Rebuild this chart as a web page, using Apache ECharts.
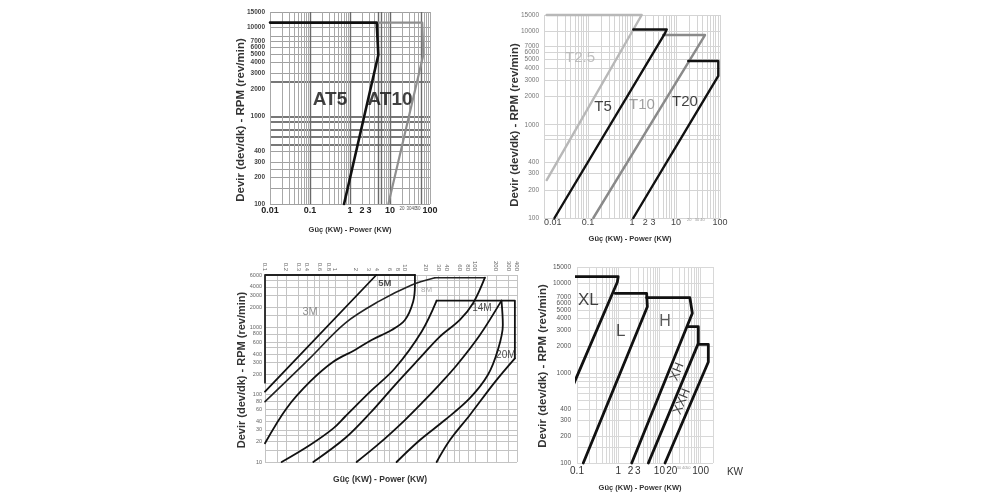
<!DOCTYPE html>
<html>
<head>
<meta charset="utf-8">
<title>Belt power selection charts</title>
<script src="https://cdn.jsdelivr.net/npm/echarts@6.0.0/dist/echarts.min.js"></script>
<style>
html,body{margin:0;padding:0;background:#fff;}
#chart{width:1000px;height:500px;}
</style>
</head>
<body>
<div id="chart"></div>
<script>
// ---------------- Panel 1 : AT5 / AT10 ----------------
const p1XLabels = [0.01, 0.1, 1, 2, 3, 10, 20, 30, 40, 50, 100];
const p1XTiny = [20, 30, 40, 50];
const p1YLabels = [100, 200, 300, 400, 1000, 2000, 3000, 4000, 5000, 6000, 7000, 10000, 15000];
const p1YGrid = [100, 150, 200, 250, 300, 400, 3000, 4000, 5000, 6000, 7000, 8000, 10000, 15000];
const p1YThick = [470, 580, 690, 860, 980, 2400];
const p1XDark = [0.1, 1, 5, 6, 10, 60];
const at5 = [[0.01, 11370], [4.65, 11370], [5.1, 4890], [0.71, 100]];
const at10 = [[5.1, 11370], [64, 11370], [68, 4890], [9.1, 100]];
const p1Texts = ['AT5', 'AT10'];
const p1TextAt = [[0.316, 1511], [10, 1511]];

// ---------------- Panel 2 : T2.5 / T5 / T10 / T20 ----------------
const p2XLabels = [0.01, 0.1, 1, 2, 3, 10, 20, 30, 40, 100];
const p2XTiny = [20, 30, 40];
const p2YLabels = [100, 200, 300, 400, 1000, 2000, 3000, 4000, 5000, 6000, 7000, 10000, 15000];
const p2YGrid = [100, 200, 300, 400, 690, 780, 1000, 2000, 3000, 4000, 5000, 6000, 7000, 10000, 15000];
const t25 = [[0.0115, 15000], [1.66, 15000], [0.0115, 255]];
const t5 = [[1.07, 10500], [6.15, 10500], [5.6, 9550], [0.0173, 100]];
const t10 = [[5.1, 9150], [45.6, 9150], [0.132, 100]];
const t20 = [[19, 4820], [91.5, 4820], [91.5, 3330], [1.07, 100]];
const p2Texts = ['T2.5', 'T5', 'T10', 'T20'];
const p2TextAt = [[0.0658, 5188], [0.219, 1548], [1.69, 1627], [16.0, 1751]];

// ---------------- Panel 3 : 3M / 5M / 8M / 14M / 20M ----------------
const p3XLabels = [0.1, 0.2, 0.3, 0.4, 0.6, 0.8, 1, 2, 3, 4, 6, 8, 10, 20, 30, 40, 60, 80, 100, 200, 300, 400];
const p3XGrid = [0.1, 0.15, 0.2, 0.3, 0.4, 0.5, 0.6, 0.8, 1, 1.5, 2, 3, 4, 5, 6, 8, 10, 15, 20, 30, 40, 50, 60, 80, 100, 150, 200, 300, 400];
const p3YLabels = [10, 20, 30, 40, 60, 80, 100, 200, 300, 400, 600, 800, 1000, 2000, 3000, 4000, 6000];
const p3YGrid = [10, 15, 20, 25, 30, 40, 50, 60, 80, 100, 150, 200, 300, 400, 500, 600, 800, 1000, 1500, 2000, 3000, 4000, 5000, 6000];
const m3 = [[0.1, 111], [3.9, 6000]];
const border3 = [[0.1, 150], [0.1, 6000], [13.9, 6000]];
const m5 = [[0.1, 19], [0.204, 63], [0.44, 156], [0.946, 309], [1.93, 461], [3.34, 650], [6.46, 915], [10, 1288], [13.1, 2410], [13.9, 4266], [13.9, 6000]];
const m8a = [[0.1, 79], [0.44, 350], [1.39, 1151], [4.16, 2410], [12.5, 4266], [26.8, 5470]];
const m8top = [[26.8, 5470], [139, 5470]];
const m8b = [[139, 5470], [94.6, 2300], [61, 1288], [31.6, 728], [16.4, 351], [7.2, 139], [3.16, 53], [1.39, 22.5], [0.49, 10]];
const m14a = [[0.173, 10], [0.44, 17.9], [0.946, 31.6], [1.39, 47], [3.16, 110], [7.2, 247], [17.3, 863], [28.4, 2500]];
const top14 = [[28.4, 2500], [373, 2500], [373, 347]];
const m14b = [[240, 2500], [118, 771], [55.3, 276], [31.6, 144], [18.1, 78], [10, 42], [4.39, 19.2], [2.04, 10]];
const m20a = [[240, 2500], [251, 1086], [213, 461], [153, 196], [84.8, 89], [37.3, 42], [16.4, 21.2], [7.6, 10]];
const m20b = [[373, 347], [193, 154], [84.8, 50], [44, 21.2], [28.4, 10]];
const p3Texts = ['3M', '5M', '8M', '14M', '20M'];
const p3TextAt = [[0.44, 1711], [5.18, 4520], [20.4, 3597], [126, 1941], [277, 389]];

// ---------------- Panel 4 : XL / L / H / XH / XXH ----------------
const p4XLabels = [0.1, 1, 2, 3, 10, 20, 30, 40, 50, 100, 200];
const p4XTiny = [30, 40, 50];
const p4YLabels = [100, 200, 300, 400, 1000, 2000, 3000, 4000, 5000, 6000, 7000, 10000, 15000];
const p4YGrid = [100, 150, 200, 300, 400, 500, 600, 700, 800, 900, 1000, 1500, 2000, 3000, 4000, 5000, 6000, 7000, 10000, 15000];
const xl = [[0.081, 11700], [1.0, 11700], [0.95, 10150], [0.081, 735]];
const lBelt = [[0.84, 7660], [4.9, 7660], [5.1, 5440], [0.142, 100]];
const hBelt = [[4.9, 6840], [55, 6840], [63, 4590], [2.13, 100]];
const xh = [[49, 3260], [88, 3260], [88, 2130], [5.4, 100]];
const xxh = [[93, 2080], [154, 2080], [154, 1320], [13.7, 100]];
const p4Texts = ['XL', 'L', 'H', 'XH', 'XXH'];
const p4TextAt = [[0.188, 6450], [1.15, 2870], [13.7, 3705], [26.7, 1032], [35.4, 480]];

// ---------------- helpers ----------------
const FONT = '"Liberation Sans", Arial, sans-serif';
function plain(v) { return String(v); }
function logMinor(fromExp, toExp) {
  const out = [];
  for (let e = fromExp; e < toExp; e++) {
    for (let m = 1; m <= 9; m++) out.push(Number((m * Math.pow(10, e)).toPrecision(2)));
  }
  out.push(Number(Math.pow(10, toExp).toPrecision(2)));
  return out;
}
function axis(o) {
  const base = {
    type: 'log', logBase: 10,
    axisLine: { show: false }, axisTick: { show: false },
    splitLine: { show: true, lineStyle: { color: '#ccc', width: 1 } },
    axisLabel: { show: false },
    z: 1
  };
  return Object.assign(base, o);
}
function gridLines(values, color, width) {
  return { axisTick: { show: false, customValues: values }, splitLine: { show: true, lineStyle: { color: color, width: width } } };
}
function labelsCfg(values, tiny, big, small, extra) {
  return Object.assign({
    show: true, customValues: values, fontFamily: FONT,
    formatter: function (v) { return (tiny.indexOf(v) >= 0 ? '{t|' : '{b|') + String(v) + '}'; },
    rich: { t: small, b: big }
  }, extra || {});
}
function yLabels(values, extra) {
  return Object.assign({ show: true, customValues: values, formatter: plain, fontFamily: FONT }, extra);
}
function lineS(xi, yi, data, color, width, smooth) {
  return {
    type: 'line', xAxisIndex: xi, yAxisIndex: yi, data: data, symbol: 'none', showSymbol: false,
    smooth: smooth || false, clip: false, silent: true, z: 3,
    lineStyle: { color: color, width: width, cap: 'round', join: 'round' }
  };
}
function textS(xi, yi, names, pos, styles) {
  return {
    type: 'scatter', xAxisIndex: xi, yAxisIndex: yi, symbolSize: 0, silent: true, z: 5, clip: false,
    data: names.map(function (n, i) {
      return { name: n, value: pos[i], label: Object.assign({ show: true, position: 'inside', formatter: '{b}', fontFamily: FONT }, styles[i]) };
    })
  };
}

const grids = [
  { left: 270, top: 12, width: 160, height: 192 },
  { left: 544, top: 15, width: 176, height: 203 },
  { left: 265, top: 275, width: 252, height: 187 },
  { left: 577, top: 267, width: 136, height: 196 }
].map(g => Object.assign({ containLabel: false, outerBoundsMode: 'none', show: false }, g));

const xAxes = [
  // 0 panel 1 main
  axis(Object.assign({ gridIndex: 0, min: 0.01, max: 100, position: 'bottom',
    axisLabel: labelsCfg(p1XLabels, p1XTiny,
      { fontSize: 9, fontWeight: 'bold', color: '#222', fontFamily: FONT },
      { fontSize: 4.5, color: '#555', fontFamily: FONT }, { margin: 2 }) },
    gridLines(logMinor(-2, 2), '#a8a8a8', 1))),
  // 1 panel 1 dark verticals
  axis(Object.assign({ gridIndex: 0, min: 0.01, max: 100, position: 'bottom' }, gridLines(p1XDark, '#6a6a6a', 1.4))),
  // 2 panel 2
  axis(Object.assign({ gridIndex: 1, min: 0.01, max: 100, position: 'bottom',
    axisLabel: labelsCfg(p2XLabels, p2XTiny,
      { fontSize: 9, color: '#444', fontFamily: FONT },
      { fontSize: 4, color: '#999', fontFamily: FONT }, { margin: 0, alignMinLabel: 'left' }) },
    gridLines(logMinor(-2, 2), '#d4d4d4', 1))),
  // 3 panel 3 (top)
  axis(Object.assign({ gridIndex: 2, min: 0.1, max: 400, position: 'top',
    axisLabel: { show: true, customValues: p3XLabels, formatter: plain, rotate: 90, margin: 4, fontSize: 6, color: '#666', fontFamily: FONT } },
    gridLines(p3XGrid, '#c4c4c4', 1))),
  // 4 panel 4
  axis(Object.assign({ gridIndex: 3, min: 0.1, max: 200, position: 'bottom',
    axisLabel: labelsCfg(p4XLabels, p4XTiny,
      { fontSize: 10, color: '#333', fontFamily: FONT },
      { fontSize: 4, color: '#999', fontFamily: FONT }, { margin: 3 }) },
    gridLines(logMinor(-1, 2).concat([200]), '#d8d8d8', 1)))
];

const yAxes = [
  // 0 panel 1 main
  axis(Object.assign({ gridIndex: 0, min: 100, max: 15000, position: 'left',
    axisLabel: yLabels(p1YLabels, { margin: 5, fontSize: 6.5, fontWeight: 'bold', color: '#444' }) },
    gridLines(p1YGrid, '#a0a0a0', 1))),
  // 1 panel 1 thick horizontals
  axis(Object.assign({ gridIndex: 0, min: 100, max: 15000, position: 'left' }, gridLines(p1YThick, '#4a4a4a', 1.7))),
  // 2 panel 2
  axis(Object.assign({ gridIndex: 1, min: 100, max: 15000, position: 'left',
    axisLabel: yLabels(p2YLabels, { margin: 5, fontSize: 6.5, color: '#777' }) },
    gridLines(p2YGrid, '#d4d4d4', 1))),
  // 3 panel 3
  axis(Object.assign({ gridIndex: 2, min: 10, max: 6000, position: 'left',
    axisLabel: yLabels(p3YLabels, { margin: 3, fontSize: 5.5, color: '#666' }) },
    gridLines(p3YGrid, '#c4c4c4', 1))),
  // 4 panel 4
  axis(Object.assign({ gridIndex: 3, min: 100, max: 15000, position: 'left',
    axisLabel: yLabels(p4YLabels, { margin: 6, fontSize: 6.5, color: '#555' }) },
    gridLines(p4YGrid, '#d8d8d8', 1)))
];

const series = [
  // panel 1
  lineS(0, 0, at10, '#8f8f8f', 2.2),
  lineS(0, 0, at5, '#111', 2.6),
  textS(0, 0, p1Texts, p1TextAt, [
    { fontSize: 19, fontWeight: 'bold', color: '#111' },
    { fontSize: 19, fontWeight: 'bold', color: '#111' }
  ]),
  // panel 2
  lineS(2, 2, t25, '#b8b8b8', 2.4),
  lineS(2, 2, t10, '#8a8a8a', 2.4),
  lineS(2, 2, t5, '#111', 2.4),
  lineS(2, 2, t20, '#111', 2.4),
  textS(2, 2, p2Texts, p2TextAt, [
    { fontSize: 15, color: '#b0b0b0' },
    { fontSize: 15, color: '#111' },
    { fontSize: 15, color: '#8a8a8a' },
    { fontSize: 15, color: '#111' }
  ]),
  // panel 3
  lineS(3, 3, border3, '#222', 1.8),
  lineS(3, 3, m3, '#111', 1.8),
  lineS(3, 3, m5, '#111', 1.8, 0.35),
  lineS(3, 3, m8a, '#222', 1.6, 0.35),
  lineS(3, 3, m8top, '#222', 1.6),
  lineS(3, 3, m8b, '#111', 1.8, 0.35),
  lineS(3, 3, m14a, '#111', 1.8, 0.35),
  lineS(3, 3, top14, '#111', 1.8),
  lineS(3, 3, m14b, '#111', 1.8, 0.35),
  lineS(3, 3, m20a, '#111', 1.8, 0.35),
  lineS(3, 3, m20b, '#111', 1.8, 0.35),
  textS(3, 3, p3Texts, p3TextAt, [
    { fontSize: 11, color: '#777' },
    { fontSize: 9.5, color: '#222', fontWeight: 'bold' },
    { fontSize: 8, color: '#999' },
    { fontSize: 10, color: '#222' },
    { fontSize: 10, color: '#222' }
  ]),
  // panel 4
  lineS(4, 4, xl, '#111', 2.8),
  lineS(4, 4, lBelt, '#111', 2.8),
  lineS(4, 4, hBelt, '#111', 2.8),
  lineS(4, 4, xh, '#111', 2.8),
  lineS(4, 4, xxh, '#111', 2.8),
  textS(4, 4, p4Texts, p4TextAt, [
    { fontSize: 17, color: '#111' },
    { fontSize: 17, color: '#222' },
    { fontSize: 16, color: '#333' },
    { fontSize: 13, color: '#111', rotate: 68 },
    { fontSize: 13, color: '#111', rotate: 68 }
  ])
];

function title(x, y, text, size, rot) {
  return {
    type: 'text', x: x, y: y, rotation: rot || 0, silent: true, z: 10,
    style: { text: text, font: 'bold ' + size + 'px ' + FONT, fill: '#333',
      align: 'center', verticalAlign: 'middle', textAlign: 'center', textVerticalAlign: 'middle' }
  };
}
const yTitle = 'Devir (dev/dk) - RPM (rev/min)';
const xTitle = 'Güç (KW) - Power (KW)';
const graphics = [
  title(241, 120, yTitle, 11.5, Math.PI / 2),
  title(350, 230, xTitle, 7.5),
  title(515, 125, yTitle, 11.5, Math.PI / 2),
  title(630, 239, xTitle, 7.5),
  title(242, 370, yTitle, 11, Math.PI / 2),
  title(380, 480, xTitle, 8.5),
  title(543, 366, yTitle, 11.5, Math.PI / 2),
  title(640, 488, xTitle, 7.5),
  { type: 'text', x: 735, y: 472, silent: true,
    style: { text: 'KW', font: '10px ' + FONT, fill: '#333', align: 'center', verticalAlign: 'middle', textAlign: 'center', textVerticalAlign: 'middle' } }
];

const chart = echarts.init(document.getElementById('chart'), null, { renderer: 'canvas' });
chart.setOption({
  animation: false,
  backgroundColor: '#fff',
  textStyle: { fontFamily: FONT },
  grid: grids,
  xAxis: xAxes,
  yAxis: yAxes,
  series: series,
  graphic: graphics
});
</script>
</body>
</html>
